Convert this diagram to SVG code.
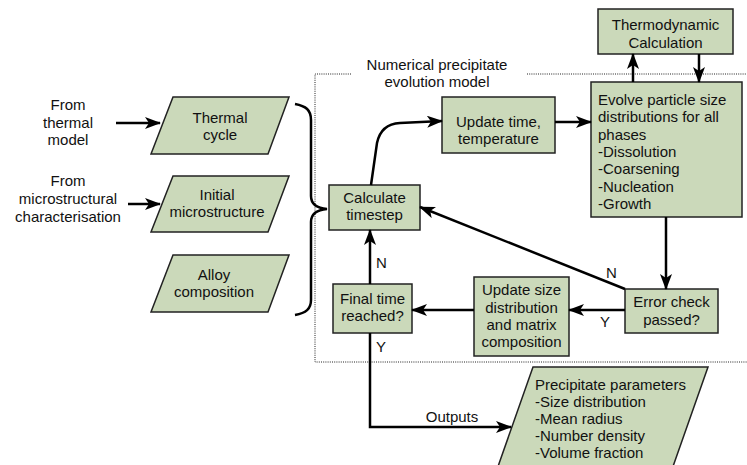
<svg xmlns="http://www.w3.org/2000/svg" width="747" height="465" viewBox="0 0 747 465">
<defs>
<style>
.box{fill:#cbd9ba;stroke:#222;stroke-width:1.5}
.t{font-family:"Liberation Sans",Arial,sans-serif;font-size:15px;fill:#111}
.c{text-anchor:middle}
.ln{fill:none;stroke:#000;stroke-width:2.5}
.dot{fill:none;stroke:#222;stroke-width:1;stroke-dasharray:1 1.2}
</style>
<marker id="ah" markerUnits="userSpaceOnUse" markerWidth="16" markerHeight="12" viewBox="0 0 16 12" refX="15" refY="6" orient="auto">
<path d="M0,0 L16,6 L0,12 L4,6 z" fill="#000"/>
</marker>
</defs>
<rect width="747" height="465" fill="#fff"/>

<g id="boundary">
<path class="dot" d="M351,74 H315 V362 H750 M527,74 H750"/>
<text class="t c" x="437" y="70">Numerical precipitate</text>
<text class="t c" x="437" y="87">evolution model</text>
</g>

<g id="from-thermal">
<text class="t c" x="68" y="110">From</text>
<text class="t c" x="68" y="128">thermal</text>
<text class="t c" x="68" y="145">model</text>
</g>
<g id="from-micro">
<text class="t c" x="68" y="186">From</text>
<text class="t c" x="68" y="204">microstructural</text>
<text class="t c" x="68" y="222">characterisation</text>
</g>

<g id="thermal-cycle">
<polygon class="box" points="173,97 289,97 268,154 151,154"/>
<text class="t c" x="220" y="123">Thermal</text>
<text class="t c" x="220" y="140">cycle</text>
</g>
<g id="initial-micro">
<polygon class="box" points="173,176 289,176 268,232 151,232"/>
<text class="t c" x="217" y="200">Initial</text>
<text class="t c" x="217" y="217">microstructure</text>
</g>
<g id="alloy">
<polygon class="box" points="173,255 289,255 268,312 151,312"/>
<text class="t c" x="214" y="280">Alloy</text>
<text class="t c" x="214" y="297">composition</text>
</g>

<g id="brace">
<path class="ln" d="M295,104 C306,106 311,110 311,120 V196 C311,204 316,208 327,209 C316,210 311,214 311,222 V300 C311,309 306,313 295,315"/>
</g>

<g id="thermo">
<rect class="box" x="598" y="9" width="135" height="45"/>
<text class="t c" x="665.5" y="30">Thermodynamic</text>
<text class="t c" x="665.5" y="48">Calculation</text>
</g>

<g id="evolve">
<rect class="box" x="591" y="82" width="151" height="135"/>
<text class="t" x="598" y="105">Evolve particle size</text>
<text class="t" x="598" y="122">distributions for all</text>
<text class="t" x="598" y="140">phases</text>
<text class="t" x="598" y="157">-Dissolution</text>
<text class="t" x="598" y="174">-Coarsening</text>
<text class="t" x="598" y="192">-Nucleation</text>
<text class="t" x="598" y="209">-Growth</text>
</g>

<g id="update-time">
<rect class="box" x="442" y="97" width="113" height="56"/>
<text class="t c" x="498.5" y="127">Update time,</text>
<text class="t c" x="498.5" y="144">temperature</text>
</g>

<g id="calc-timestep">
<rect class="box" x="329" y="185" width="91" height="45"/>
<text class="t c" x="374.5" y="203">Calculate</text>
<text class="t c" x="374.5" y="220">timestep</text>
</g>

<g id="final-time">
<rect class="box" x="333" y="284" width="79" height="49"/>
<text class="t c" x="372.5" y="304">Final time</text>
<text class="t c" x="372.5" y="321">reached?</text>
</g>

<g id="update-size">
<rect class="box" x="474" y="277" width="95" height="79"/>
<text class="t c" x="521.5" y="295">Update size</text>
<text class="t c" x="521.5" y="313">distribution</text>
<text class="t c" x="521.5" y="330">and matrix</text>
<text class="t c" x="521.5" y="347">composition</text>
</g>

<g id="error-check">
<rect class="box" x="625" y="289" width="93" height="44"/>
<text class="t c" x="671.5" y="307">Error check</text>
<text class="t c" x="671.5" y="325">passed?</text>
</g>

<g id="outputs">
<polygon class="box" points="533,367 708,367 670,475 495,475"/>
<text class="t" x="535" y="390">Precipitate parameters</text>
<text class="t" x="535" y="407">-Size distribution</text>
<text class="t" x="535" y="424">-Mean radius</text>
<text class="t" x="535" y="441">-Number density</text>
<text class="t" x="535" y="458">-Volume fraction</text>
</g>

<g id="connectors">
<path class="ln" marker-end="url(#ah)" d="M116,123 H160"/>
<path class="ln" marker-end="url(#ah)" d="M128,204 H160"/>
<path class="ln" marker-end="url(#ah)" d="M633,82 V54"/>
<path class="ln" marker-end="url(#ah)" d="M699,54 V82"/>
<path class="ln" marker-end="url(#ah)" d="M555,122 H591"/>
<path class="ln" marker-end="url(#ah)" d="M371,185 L377,143 Q381,124 400,123 L442,121"/>
<path class="ln" marker-end="url(#ah)" d="M666,217 V289"/>
<path class="ln" marker-end="url(#ah)" d="M625,310 H569"/>
<path class="ln" marker-end="url(#ah)" d="M474,310 H412"/>
<path class="ln" marker-end="url(#ah)" d="M370,284 V230"/>
<path class="ln" marker-end="url(#ah)" d="M625,289 L420,207"/>
<path class="ln" marker-end="url(#ah)" d="M370,333 V427 H511"/>
<text class="t" x="376" y="268">N</text>
<text class="t" x="376" y="352">Y</text>
<text class="t" x="606" y="278">N</text>
<text class="t" x="600" y="327">Y</text>
<text class="t c" x="452" y="422">Outputs</text>
</g>
</svg>
